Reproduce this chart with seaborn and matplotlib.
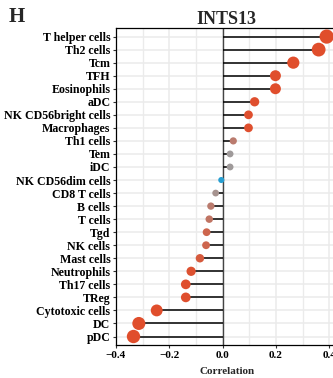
import numpy as np
import pandas as pd
import matplotlib
matplotlib.use("Agg")
import matplotlib.pyplot as plt
from matplotlib.colors import LinearSegmentedColormap, Normalize
from matplotlib.ticker import MultipleLocator
import seaborn as sns

cells = ["T helper cells", "Th2 cells", "Tcm", "TFH", "Eosinophils", "aDC",
         "NK CD56bright cells", "Macrophages", "Th1 cells", "Tem", "iDC",
         "NK CD56dim cells", "CD8 T cells", "B cells", "T cells", "Tgd",
         "NK cells", "Mast cells", "Neutrophils", "Th17 cells", "TReg",
         "Cytotoxic cells", "DC", "pDC"]
corr = [0.39, 0.36, 0.265, 0.198, 0.198, 0.12, 0.097, 0.097, 0.04, 0.028, 0.028,
        -0.005, -0.026, -0.044, -0.05, -0.06, -0.062, -0.085, -0.118, -0.138,
        -0.138, -0.247, -0.314, -0.334]
pval = [0.0, 0.0, 0.0, 0.0, 0.0, 0.01, 0.01, 0.01, 0.3, 0.5, 0.5,
        0.95, 0.45, 0.3, 0.25, 0.15, 0.15, 0.08, 0.02, 0.01,
        0.01, 0.0, 0.0, 0.0]

df = pd.DataFrame({"cell": cells, "cor": corr, "p": pval})
df["abs"] = df["cor"].abs()
df["pos"] = np.arange(len(df))

sns.set_theme(style="white")
plt.rcParams["font.family"] = ["Liberation Serif", "DejaVu Serif"]
plt.rcParams["font.weight"] = "bold"

fig = plt.figure(figsize=(3.33, 3.78), dpi=100)
ax = fig.add_axes([0.348, 0.087, 0.665, 0.839])

cmap = LinearSegmentedColormap.from_list("pc", ["#E04E2C", "#A09A9A", "#1AA0D8"])

ax.set_xlim(-0.4, 0.43)
ax.set_ylim(len(df) - 1 + 0.66, -0.66)
ax.xaxis.set_major_locator(MultipleLocator(0.2))
ax.xaxis.set_minor_locator(MultipleLocator(0.1))
ax.grid(True, which="major", color="#EBEBEB", lw=1.1)
ax.grid(True, which="minor", axis="x", color="#EBEBEB", lw=1.0)
ax.set_axisbelow(True)

ax.axvline(0, color="#444444", lw=1.0, zorder=1)
ax.hlines(df["pos"], 0, df["cor"], color="black", lw=1.1, zorder=2)

sns.scatterplot(data=df, x="cor", y="pos", hue="p", palette=cmap,
                hue_norm=Normalize(0, 1), size="abs", sizes=(18, 105),
                size_norm=Normalize(0, 0.39), legend=False, ax=ax,
                linewidth=0, zorder=3)

ax.set_yticks(df["pos"])
ax.set_yticklabels(df["cell"], fontsize=8.6, fontweight="bold", color="black")
ax.set_xticks([-0.4, -0.2, 0.0, 0.2, 0.4])
ax.set_xticklabels(["\u22120.4", "\u22120.2", "0.0", "0.2", "0.4"],
                   fontsize=8.0, fontweight="bold", color="black")
ax.tick_params(axis="both", which="major", length=2.5, width=0.8, color="#333333",
               pad=1.5, left=True, bottom=True)
ax.tick_params(axis="x", which="minor", length=0)
ax.set_ylabel("")
ax.set_xlabel("Correlation", fontsize=8.0, fontweight="bold", labelpad=5)
for s in ax.spines.values():
    s.set_color("black")
    s.set_linewidth(0.9)

ax.set_title("INTS13", fontsize=13, fontweight="bold", pad=3)
fig.text(0.025, 0.955, "H", fontsize=15, fontweight="bold", ha="left", va="center")

fig.savefig("out.png", dpi=100)
